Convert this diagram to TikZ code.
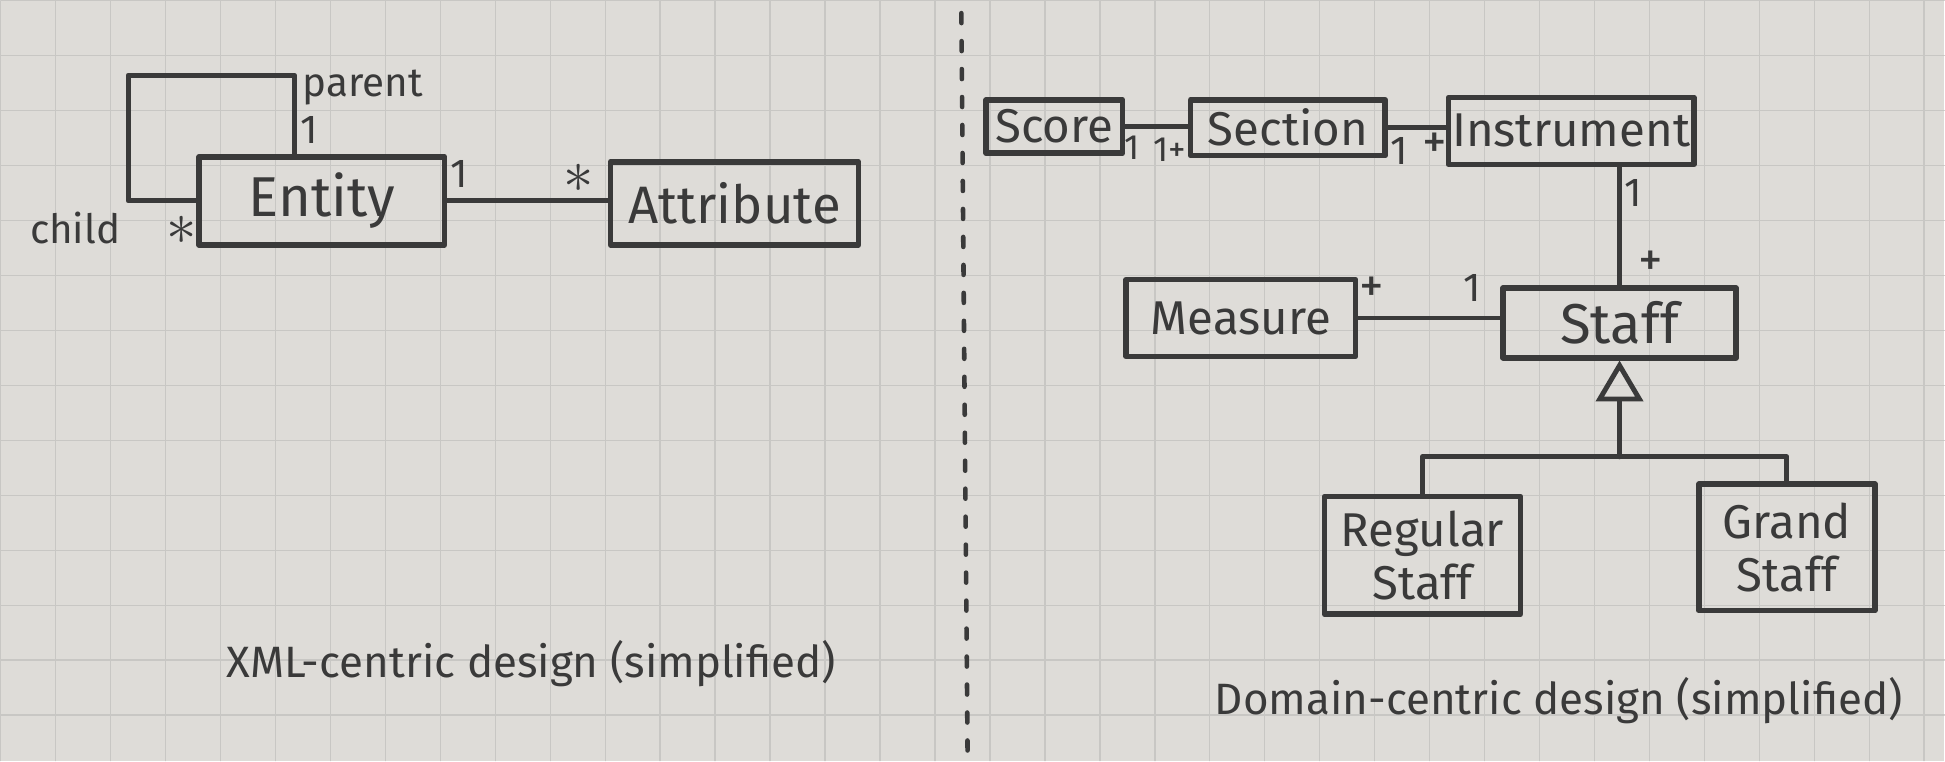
\documentclass[tikz,border=0pt]{standalone}
\usepackage{fontspec}
\setmainfont{Fira Sans}
\usetikzlibrary{arrows.meta}
\newcommand\px{0.012404cm}
\definecolor{ink}{HTML}{3A3A3A}
\definecolor{paper}{HTML}{DEDCD8}
\definecolor{gridline}{HTML}{C8C7C4}
\tikzset{cls/.style n args={2}{draw=ink, line width=1.6pt, text=ink, align=center,
    minimum width=#1*\px, minimum height=#2*\px, inner sep=1pt,
    font=\fontsize{13.5}{15}\selectfont}}
\tikzset{mult/.style={text=ink, inner sep=1pt, font=\fontsize{11.5}{13}\selectfont}}
\tikzset{plus/.style={mult, font=\fontsize{14}{16}\selectfont}}
\tikzset{assoc/.style={draw=ink, line width=1.4pt}}
\tikzset{inherit/.style={assoc, -{Triangle[open, length=0.41cm, width=0.47cm]}}}
\tikzset{caption/.style={text=ink, font=\fontsize{12.5}{14}\selectfont}}
\begin{document}
\begin{tikzpicture}[x=\px, y=-\px, line join=round, line cap=round]
   % paper
   \fill[paper] (0,0) rectangle (1568,613);
   \draw[gridline, line width=0.4pt, step=0.55cm] (0,0) grid (1568,613);
   \useasboundingbox (0,0) rectangle (1568,613);

   % XML-centric design
   \node[cls={198}{71}, font=\fontsize{16}{18}\selectfont] (entity) at (259,161.5) {Entity};
   \node[cls={200}{67}, font=\fontsize{15}{17}\selectfont] (attr)   at (592,163.5) {Attribute};
   \coordinate (looptop) at (237,60);

   \draw[assoc] (entity.west) -- ++(-55,0) |- (looptop) -- (looptop |- entity.north);
   \draw[assoc] (entity.east) -- (entity.east -| attr.west);

   \node[mult] (parentlbl) at (292,70)  {parent};
   \node[mult] (parentone) at (249,104) {1};
   \node[mult] (childlbl)  at (60,183)  {child};
   \node[mult, font=\fontsize{16}{18}\selectfont] (childmany) at (146,185) {$\ast$};
   \node[mult] (attrone)   at (370,140) {1};
   \node[mult, font=\fontsize{16}{18}\selectfont] (attrmany) at (466,143) {$\ast$};

   \node[caption] (xmlcap) at (428,535) {XML-centric design (simplified)};

   % separator
   \draw[ink, line width=1.3pt, dash pattern=on 0.1cm off 0.18cm] (775,10) -- (780,605);

   % Domain-centric design
   \node[cls={110}{43}] (score)   at (850,101.5)  {Score};
   \node[cls={157}{45}] (section) at (1038.5,102.5) {Section};
   \node[cls={190}{54}] (instr)   at (1267,105)   {Instrument};
   \node[cls={185}{62}] (measure) at (1000.5,256) {Measure};
   \node[cls={188}{56}, font=\fontsize{16}{18}\selectfont] (staff) at (1306,260) {Staff};
   \node[cls={158}{95}] (regular) at (1147,447.5) {Regular\\Staff};
   \node[cls={142}{102}] (grand)  at (1441,441)   {Grand\\Staff};
   \coordinate (junction) at (1306,368);

   \draw[assoc] (score.east) -- (score.east -| section.west);
   \draw[assoc] (section.east) -- (section.east -| instr.west);
   \draw[assoc] (staff.north) -- (staff.north |- instr.south);
   \draw[assoc] (measure.east) -- (measure.east -| staff.west);
   \draw[inherit] (junction) -- (staff.south);
   \draw[assoc] (regular.north) |- (junction) -| (grand.north);

   \node[mult, font=\fontsize{10}{12}\selectfont] (scoreone) at (913,119) {1};
   \node[mult, font=\fontsize{10}{12}\selectfont] (sectmany) at (943,120) {1+};
   \node[mult] (sectone)    at (1128,121) {1};
   \node[plus] (instrmany)  at (1157,117) {+};
   \node[mult] (instrone)   at (1317,155) {1};
   \node[plus] (staffmany)  at (1331,212) {+};
   \node[plus] (measmany)   at (1106,233) {+};
   \node[mult] (measone)    at (1187,232) {1};

   \node[caption] (domcap) at (1257,565) {Domain-centric design (simplified)};
\end{tikzpicture}
\end{document}
